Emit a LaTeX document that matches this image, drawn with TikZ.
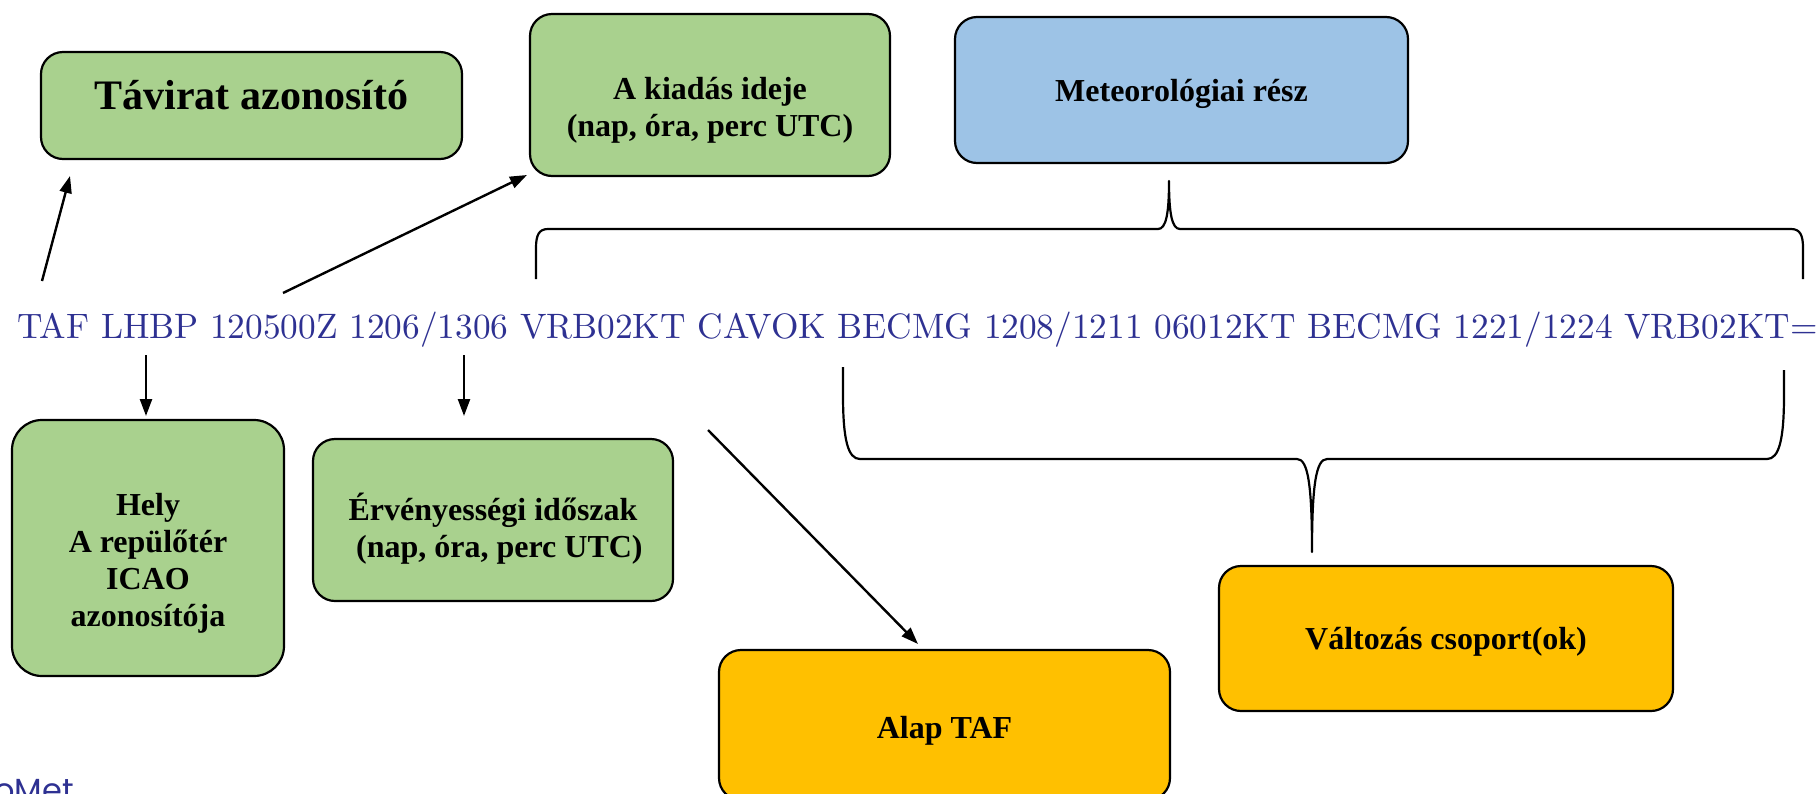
\documentclass[tikz,border=0pt]{standalone}
\usepackage{fontspec}
\usepackage{graphicx}
\usetikzlibrary{arrows.meta}
\newfontfamily\tnr{Liberation Serif}
\newfontfamily\logofont{Poppins}
\definecolor{boxgreen}{HTML}{A9D18E}
\definecolor{boxblue}{HTML}{9DC3E6}
\definecolor{boxorange}{HTML}{FFC000}
\definecolor{tafblue}{RGB}{46,49,146}
\begin{document}
\begin{tikzpicture}[x=1pt,y=-1pt,
  box/.style={draw=black, line width=2.2pt, rounded corners=22pt, inner sep=0pt},
  lbl/.style={font=\tnr\bfseries\fontsize{32}{37}\selectfont, align=center, inner sep=0pt},
  arr/.style={line width=2.4pt, -{Triangle[length=17pt,width=12pt]}},
  brace/.style={line width=2.2pt, line join=round}]
\useasboundingbox[fill=white] (0,0) rectangle (1820,793);

% boxes
\node[box, fill=boxgreen, minimum width=421pt, minimum height=107pt] (tav) at (251.5,105.5) {};
\node[lbl, font=\tnr\bfseries\fontsize{42}{48}\selectfont] (tavt) at ([yshift=10pt]tav.center) {Távirat azonosító};

\node[box, fill=boxgreen, minimum width=360pt, minimum height=162pt] (kiad) at (710,95) {};
\node[lbl] (kiadt) at ([yshift=-15pt]kiad.center) {A kiadás ideje\\(nap, óra, perc UTC)};

\node[box, fill=boxblue, minimum width=453pt, minimum height=146pt] (met) at (1181.5,90) {};
\node[lbl] (mett) at ([yshift=-4pt]met.center) {Meteorológiai rész};

\node[box, fill=boxgreen, rounded corners=30pt, minimum width=272pt, minimum height=256pt] (hely) at (148,548) {};
\node[lbl] (helyt) at ([yshift=-15pt]hely.center) {Hely\\A repülőtér\\ICAO\\azonosítója};

\node[box, fill=boxgreen, minimum width=360pt, minimum height=162pt] (erv) at (493,520) {};
\node[lbl] (ervt) at ([yshift=-9pt]erv.center) {Érvényességi időszak\\\hspace*{0.4em}(nap, óra, perc UTC)};

\node[box, fill=boxorange, minimum width=451pt, minimum height=150pt] (alap) at (944.5,725) {};
\node[lbl] (alapt) at ([yshift=-6pt]alap.center) {Alap TAF};

\node[box, fill=boxorange, minimum width=454pt, minimum height=145pt] (valt) at (1446,638.5) {};
\node[lbl] (valtt) at ([yshift=-3pt]valt.center) {Változás csoport(ok)};

% TAF message
\node[anchor=base west, inner sep=0pt, text=tafblue] (taf) at (17,338)
  {\resizebox{1800pt}{!}{TAF LHBP 120500Z 1206/1306 VRB02KT CAVOK BECMG 1208/1211 06012KT BECMG 1221/1224 VRB02KT=}};

% arrows
\coordinate (s1) at (42,281);  \coordinate (e1) at (70,176);
\coordinate (s2) at (283,293); \coordinate (e2) at (527,175);
\coordinate (s3) at (146,355); \coordinate (e3) at (146,416);
\coordinate (s4) at (464,355); \coordinate (e4) at (464,416);
\coordinate (s5) at (708,430); \coordinate (e5) at (918,644);
\draw[arr] (s1) -- (e1);
\draw[arr] (s2) -- (e2);
\draw[arr] (s3) -- (e3);
\draw[arr] (s4) -- (e4);
\draw[arr] (s5) -- (e5);

% upper brace (meteorological part)
\draw[brace] (536,279) -- (536,248) .. controls (536,235) and (539,229) .. (548,229)
  -- (1158,229) .. controls (1166,229) and (1169,214) .. (1169,181)
  .. controls (1169,214) and (1172,229) .. (1180,229)
  -- (1791,229) .. controls (1800,229) and (1803,235) .. (1803,248) -- (1803,279);

% lower brace (change groups)
\draw[brace] (843,367) -- (843,395) .. controls (843,440) and (848,459) .. (860,459)
  -- (1297,459) .. controls (1308,459) and (1312,485) .. (1312,552)
  .. controls (1312,485) and (1316,459) .. (1327,459)
  -- (1767,459) .. controls (1779,459) and (1784,440) .. (1784,395) -- (1784,370);

% logo fragment (cut off at the lower edge, as in the reference)
\node[anchor=base west, inner sep=0pt, text=tafblue, font=\logofont\fontsize{32}{36}\selectfont] (logo) at (-6,801) {oMet};
\end{tikzpicture}
\end{document}
